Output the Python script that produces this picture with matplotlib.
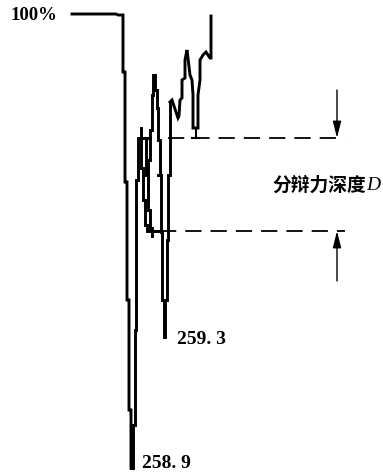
import matplotlib.pyplot as plt

# scan trace of the resolution test
# (x: scan position in px, y: signal depth in px, 0 at top)
top_x = [72, 116, 118, 123, 123, 125, 125, 127, 127, 129, 129, 131, 131]
top_y = [14, 14, 15, 15, 72, 72, 182, 182, 300, 300, 410, 410, 468]

rise_x = [131, 133, 133, 135, 135, 136, 136, 138, 138, 150]
rise_y = [468, 468, 425, 425, 330, 330, 180, 180, 138, 138]

inner_x = [141, 141, 143, 143, 145, 145, 147, 147, 160]
inner_y = [128, 168, 168, 200, 200, 225, 225, 231, 231]

inner2_x = [146, 146, 148, 148, 150, 150, 152, 152]
inner2_y = [138, 175, 175, 210, 210, 228, 228, 236]

peak_x = [148, 148, 150, 150, 152, 152, 153, 153, 155, 155, 157, 157, 158, 158, 160, 160]
peak_y = [200, 160, 160, 130, 130, 95, 95, 75, 75, 90, 90, 108, 108, 140, 140, 175]

dip_x = [158, 161, 161, 162, 162, 164, 164, 165, 165, 167, 167, 168, 168, 170, 170]
dip_y = [175, 175, 232, 232, 300, 300, 337, 337, 300, 300, 240, 240, 175, 175, 102]

right_x = [170, 172, 176, 178, 179, 180, 182, 182, 185, 185, 187, 188, 190, 192,
           193, 193, 198, 198, 200, 200, 203, 206, 210, 211, 211]
right_y = [102, 100, 112, 118, 116, 100, 98, 80, 78, 60, 50, 58, 75, 80,
           95, 128, 128, 95, 80, 60, 55, 52, 58, 58, 16]

upper_level = 138
lower_level = 231

fig = plt.figure(figsize=(3.83, 4.72), dpi=100)
ax = fig.add_axes([0, 0, 1, 1])
ax.set_xlim(0, 383)
ax.set_ylim(472, 0)
ax.axis('off')

lw = 2.1
for xs, ys in [(top_x, top_y), (rise_x, rise_y), (inner_x, inner_y),
               (inner2_x, inner2_y), (peak_x, peak_y), (dip_x, dip_y),
               (right_x, right_y)]:
    ax.plot(xs, ys, color='black', lw=lw, solid_joinstyle='miter')

# stem and bar at the foot of the right dip
ax.plot([195.5, 195.5], [128, upper_level], color='black', lw=1.5)
ax.plot([192, 199], [upper_level, upper_level], color='black', lw=1.5)

# dashed levels
ax.plot([168, 345], [upper_level, upper_level], color='black', lw=1.3,
        dashes=(9, 5))
ax.plot([160, 345], [lower_level, lower_level], color='black', lw=1.3,
        dashes=(9, 5))

# depth arrows
arrow = dict(arrowstyle='-|>,head_length=1.0,head_width=0.25', color='black',
             lw=1.0, shrinkA=0, shrinkB=0)
ax.annotate('', xy=(337, upper_level), xytext=(337, 90), arrowprops=arrow)
ax.annotate('', xy=(337, lower_level), xytext=(337, 281), arrowprops=arrow)

ax.text(11, 15, '100%', fontsize=13.5, family='Liberation Serif',
        fontweight='bold', va='center', ha='left')
ax.text(177, 340, '259. 3', fontsize=14, family='Liberation Serif',
        fontweight='bold', va='center', ha='left')
ax.text(142, 463, '258. 9', fontsize=14, family='Liberation Serif',
        fontweight='bold', va='center', ha='left')
ax.text(272, 185, '分辩力深度', fontsize=13.5, family='Noto Sans CJK SC',
        fontweight='bold', va='center', ha='left')
ax.text(366, 185, 'D', fontsize=14, family='Liberation Serif',
        style='italic', va='center', ha='left')

fig.savefig('out.png', dpi=100)
